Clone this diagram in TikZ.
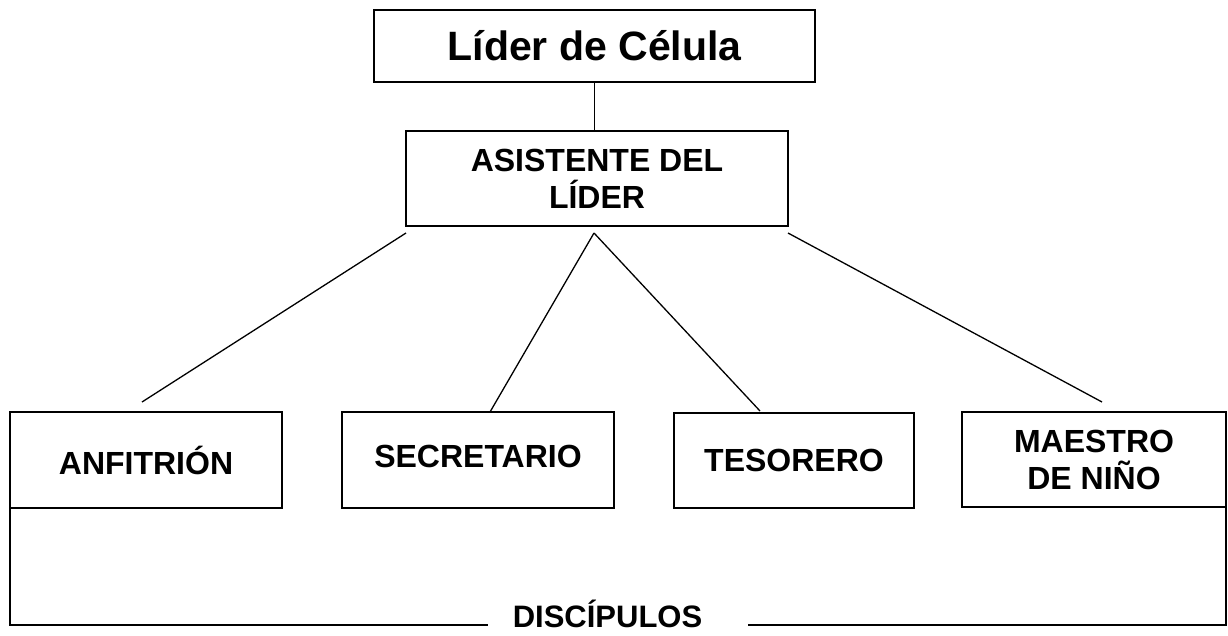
\documentclass[tikz,border=0pt]{standalone}
\usepackage{fontspec}
\setmainfont{Liberation Sans}
\begin{document}
\begin{tikzpicture}[x=1pt,y=-1pt,
  box/.style={draw,line width=1.6pt,rectangle,inner sep=0pt,outer sep=0pt,align=center,
              font=\bfseries\fontsize{32}{37}\selectfont},
  conn/.style={line width=1.3pt}]
\useasboundingbox (0,0) rectangle (1228,635);
\node[box,minimum width=441pt,minimum height=72pt,
      font=\bfseries\fontsize{41}{48}\selectfont] (lider) at (594.5,46) {Líder de Célula};
\node[box,minimum width=382pt,minimum height=95pt] (asis) at (597,178.5) {ASISTENTE DEL\\LÍDER};
\node[box,minimum width=272pt,minimum height=96pt,text height=28pt,text depth=0pt] (anf) at (146,460) {ANFITRIÓN};
\node[box,minimum width=272pt,minimum height=96pt,text height=15pt,text depth=0pt] (sec) at (478,460) {SECRETARIO};
\node[box,minimum width=240pt,minimum height=95pt,text height=21pt,text depth=0pt] (tes) at (794,460.5) {TESORERO};
\node[box,minimum width=264pt,minimum height=95pt] (mae) at (1094,459.5) {MAESTRO\\DE NIÑO};
\node[font=\bfseries\fontsize{31}{37}\selectfont,inner sep=0pt,anchor=base] (disc) at (607.5,627) {DISCÍPULOS};
\coordinate (bl) at (10,625);
\coordinate (br) at (1226,625);
\coordinate (dl) at (488,625);
\coordinate (dr) at (748,625);
\draw[conn] (lider.south) -- (lider.south |- asis.north);
\draw[conn] ([yshift=-7pt]asis.south west) -- ([xshift=-4pt,yshift=10pt]anf.north);
\draw[conn] ([xshift=-3pt,yshift=-7pt]asis.south) -- ([xshift=12pt]sec.north);
\draw[conn] ([xshift=-3pt,yshift=-7pt]asis.south) -- ([xshift=-34pt,yshift=2pt]tes.north);
\draw[conn] ([yshift=-7pt]asis.south east) -- ([xshift=8pt,yshift=10pt]mae.north);
\draw[conn] (anf.south west) -- (bl) -- (dl);
\draw[conn] (mae.south east) -- (br) -- (dr);
\end{tikzpicture}
\end{document}
